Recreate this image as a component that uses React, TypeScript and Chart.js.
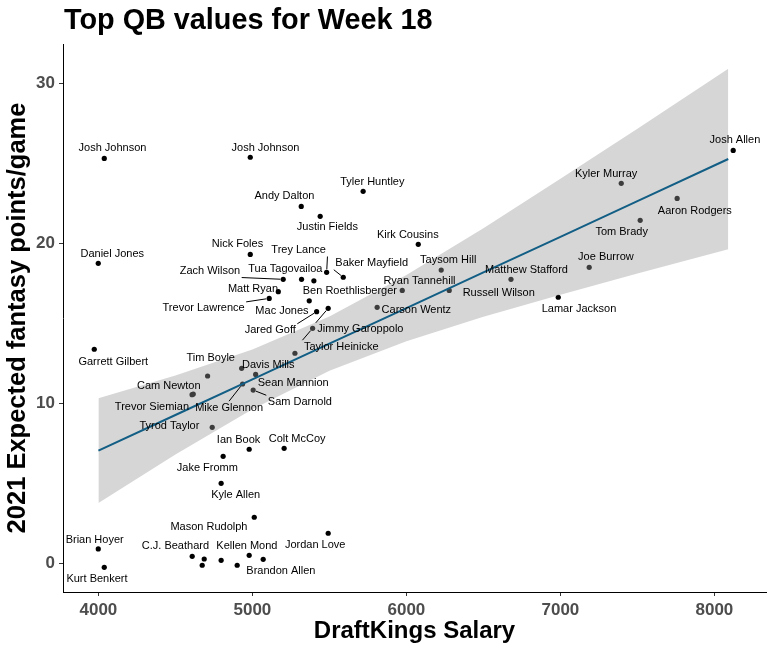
import React, { useEffect, useRef } from "react";
import { Chart, registerables } from "chart.js";

Chart.register(...registerables);

// ---- data ----
const players: string[] = [
  "Josh Johnson", "Josh Johnson", "Andy Dalton", "Justin Fields", "Tyler Huntley",
  "Kirk Cousins", "Nick Foles", "Daniel Jones", "Trey Lance", "Zach Wilson",
  "Tua Tagovailoa", "Ben Roethlisberger", "Baker Mayfield", "Matt Ryan", "Trevor Lawrence",
  "Mac Jones", "Jared Goff", "Jimmy Garoppolo", "Taylor Heinicke", "",
  "Ryan Tannehill", "Taysom Hill", "Carson Wentz", "Russell Wilson", "Matthew Stafford",
  "Lamar Jackson", "Joe Burrow", "Tom Brady", "Aaron Rodgers", "Kyler Murray",
  "Josh Allen", "Garrett Gilbert", "Tim Boyle", "Davis Mills", "Sean Mannion",
  "Mike Glennon", "Sam Darnold", "Cam Newton", "Trevor Siemian", "Tyrod Taylor",
  "Ian Book", "Colt McCoy", "Jake Fromm", "Kyle Allen", "Mason Rudolph",
  "Jordan Love", "Brian Hoyer", "Kurt Benkert", "C.J. Beathard", "",
  "", "", "", "Kellen Mond", "Brandon Allen",
];

const salary: number[] = [
  4038, 4986, 5317, 5440, 5719,
  6077, 4986, 3999, 5482, 5200,
  5319, 5399, 5590, 5168, 5109,
  5369, 5417, 5492, 5391, 5276,
  5973, 6226, 5810, 6278, 6679,
  6986, 7187, 7518, 7758, 7395,
  8122, 3973, 4709, 4930, 5021,
  4936, 5005, 4616, 4608, 4739,
  4979, 5206, 4810, 4797, 5012,
  5492, 3999, 4038, 4609, 4687,
  4674, 4797, 4901, 4979, 5070,
];

const expectedPoints: number[] = [
  25.29, 25.36, 22.29, 21.67, 23.23,
  19.92, 19.29, 18.73, 18.17, 17.73,
  17.73, 17.64, 17.86, 16.96, 16.54,
  16.39, 15.71, 15.92, 14.67, 13.11,
  17.04, 18.31, 15.98, 17.04, 17.73,
  16.61, 18.48, 21.42, 22.79, 23.73,
  25.79, 13.36, 11.69, 12.17, 11.79,
  11.19, 10.81, 10.56, 10.52, 8.48,
  7.11, 7.17, 6.67, 4.98, 2.86,
  1.86, 0.88, -0.27, 0.42, 0.25,
  -0.14, 0.17, -0.14, 0.48, 0.23,
];

// linear fit and its confidence band, read along the salary axis
const fitSalary: number[] = [4000, 4500, 5000, 5500, 6000, 6500, 7000, 7500, 8090];
const fitValue: number[] = [7.02, 9.25, 11.48, 13.71, 15.93, 18.16, 20.39, 22.62, 25.25];
const fitLower: number[] = [3.75, 6.78, 9.61, 12.02, 13.86, 15.39, 16.77, 18.09, 19.61];
const fitUpper: number[] = [10.29, 11.72, 13.35, 15.4, 18.0, 20.93, 24.01, 27.15, 30.89];

const xTickValues: number[] = [4000, 5000, 6000, 7000, 8000];
const yTickValues: number[] = [0, 10, 20, 30];

// ---- label layout (pixel offsets of each label from its point, and leader-line flag) ----
const labelOffsets: [number, number, boolean][] = [
  [8.2, -10, false], [15.2, -9, false], [-16.8, -10.3, false], [7.2, 10.4, false], [9.2, -9, false],
  [-10.5, -9.3, false], [-12.8, -10, false], [14, -9, false], [-28, -22.3, true], [-73.3, -8.3, true],
  [-16.2, -10.3, false], [36, 10.5, false], [28.4, -14, true], [-25.3, -2.4, false], [-65.6, 10, true],
  [-27.3, 10.6, false], [-46.4, 18.6, true], [32.2, 21, true], [28.6, 18.4, true], [0, 0, false],
  [17.2, -9.3, false], [7, -10, false], [39.2, 3, false], [49.5, 3, false], [15.5, -9.3, false],
  [20.7, 12, false], [16.7, -10.3, false], [-18.5, 11.7, false], [17.7, 12.4, false], [-15.1, -9.3, false],
  [1.7, -10.3, false], [19, 12.4, false], [3.1, -17.7, false], [26.6, -3.3, false], [37.6, 9, false],
  [-13.5, 23.7, true], [46.7, 11.7, true], [-24.5, -8, false], [-40.1, 12.3, false], [-42.8, -1.3, false],
  [-10.6, -9.3, false], [13, -9, false], [-15.8, 11.7, false], [14.5, 11.7, false], [-45.3, 10, false],
  [-13, 12, false], [-3.6, -9, false], [-7.3, 11.7, false], [-16.8, -10.3, false], [0, 0, false],
  [0, 0, false], [0, 0, false], [0, 0, false], [-2.3, -9.3, false], [17.7, 11.7, false],
];

const FONT = "'Liberation Sans', Arial, sans-serif";

const labelPlugin = {
  id: "repelLabels",
  afterDatasetsDraw(chart: any) {
    const meta = chart.getDatasetMeta(0);
    const ctx = chart.ctx as CanvasRenderingContext2D;
    ctx.save();
    ctx.font = `11px ${FONT}`;
    ctx.textAlign = "center";
    ctx.textBaseline = "middle";
    meta.data.forEach((el: any, i: number) => {
      const name = players[i];
      if (!name) return;
      const [dx, dy, seg] = labelOffsets[i];
      const cx = el.x + dx;
      const cy = el.y + dy;
      if (seg) {
        const hw = ctx.measureText(name).width / 2 + 1.5;
        const hh = 6.5;
        let best: [number, number] = [cx, cy];
        let bd = Infinity;
        for (const ox of [-1, 0, 1]) {
          for (const oy of [-1, 0, 1]) {
            const qx = cx + ox * hw;
            const qy = cy + oy * hh;
            const d = (qx - el.x) ** 2 + (qy - el.y) ** 2;
            if (d < bd) {
              bd = d;
              best = [qx, qy];
            }
          }
        }
        const len = Math.sqrt(bd) || 1;
        const sx = el.x + ((best[0] - el.x) / len) * 3;
        const sy = el.y + ((best[1] - el.y) / len) * 3;
        ctx.strokeStyle = "#000";
        ctx.lineWidth = 1;
        ctx.beginPath();
        ctx.moveTo(sx, sy);
        ctx.lineTo(best[0], best[1]);
        ctx.stroke();
      }
      ctx.fillStyle = "#000";
      ctx.fillText(name, cx, cy);
    });
    ctx.restore();
  },
};

const titlePlugin = {
  id: "plotTitle",
  afterDraw(chart: any) {
    const ctx = chart.ctx as CanvasRenderingContext2D;
    ctx.save();
    ctx.font = `bold 28.8px ${FONT}`;
    ctx.fillStyle = "#000";
    ctx.textAlign = "left";
    ctx.textBaseline = "alphabetic";
    ctx.fillText("Top QB values for Week 18", chart.chartArea.left + 1, 29);
    ctx.restore();
  },
};

export default function App() {
  const canvasRef = useRef<HTMLCanvasElement | null>(null);

  useEffect(() => {
    if (!canvasRef.current) return;
    const chart = new Chart(canvasRef.current, {
      type: "scatter",
      data: {
        datasets: [
          {
            label: "QBs",
            data: salary.map((s, i) => ({ x: s, y: expectedPoints[i] })),
            pointRadius: 2.6,
            pointHoverRadius: 2.6,
            backgroundColor: "#000",
            borderWidth: 0,
            order: 4,
          },
          {
            type: "line",
            label: "lower",
            data: fitSalary.map((s, i) => ({ x: s, y: fitLower[i] })),
            pointRadius: 0,
            borderWidth: 0,
            borderColor: "rgba(0,0,0,0)",
            fill: false,
            order: 3,
          },
          {
            type: "line",
            label: "upper",
            data: fitSalary.map((s, i) => ({ x: s, y: fitUpper[i] })),
            pointRadius: 0,
            borderWidth: 0,
            borderColor: "rgba(0,0,0,0)",
            backgroundColor: "rgba(153,153,153,0.4)",
            fill: 1,
            order: 2,
          },
          {
            type: "line",
            label: "fit",
            data: fitSalary.map((s, i) => ({ x: s, y: fitValue[i] })),
            pointRadius: 0,
            borderWidth: 2,
            borderColor: "#125e85",
            fill: false,
            order: 1,
          },
        ] as any,
      },
      options: {
        animation: false,
        responsive: true,
        maintainAspectRatio: false,
        layout: { padding: { top: 44, right: 7, left: 0, bottom: 0 } },
        plugins: {
          legend: { display: false },
          tooltip: { enabled: false },
          title: { display: false },
        },
        scales: {
          x: {
            type: "linear",
            min: 3770,
            max: 8335,
            afterFit: (scale: any) => {
              scale.height = 60;
            },
            afterBuildTicks: (scale: any) => {
              scale.ticks = xTickValues.map((v) => ({ value: v }));
            },
            ticks: {
              padding: 4,
              color: "#4d4d4d",
              font: { family: FONT, size: 17, weight: "bold" },
              callback: (v: any) => String(v),
            },
            grid: { drawOnChartArea: false, drawTicks: true, tickLength: 4, color: "#333" },
            border: { display: true, color: "#000", width: 1 },
            title: {
              display: true,
              text: "DraftKings Salary",
              color: "#000",
              font: { family: FONT, size: 24, weight: "bold" },
              padding: { top: 0, bottom: 6 },
            },
          },
          y: {
            type: "linear",
            min: -1.8125,
            max: 32.44,
            afterFit: (scale: any) => {
              scale.width = 63;
            },
            afterBuildTicks: (scale: any) => {
              scale.ticks = yTickValues.map((v) => ({ value: v }));
            },
            ticks: {
              padding: 4,
              color: "#4d4d4d",
              font: { family: FONT, size: 17, weight: "bold" },
              callback: (v: any) => String(v),
            },
            grid: { drawOnChartArea: false, drawTicks: true, tickLength: 4, color: "#333" },
            border: { display: true, color: "#000", width: 1 },
            title: {
              display: true,
              text: "2021 Expected fantasy points/game",
              color: "#000",
              font: { family: FONT, size: 25.5, weight: "bold" },
              padding: { top: 3, bottom: 0 },
            },
          },
        },
      } as any,
      plugins: [labelPlugin, titlePlugin],
    });
    return () => chart.destroy();
  }, []);

  return (
    <div style={{ position: "absolute", left: 0, top: 0, width: 773, height: 652, background: "#fff" }}>
      <canvas ref={canvasRef} />
    </div>
  );
}
